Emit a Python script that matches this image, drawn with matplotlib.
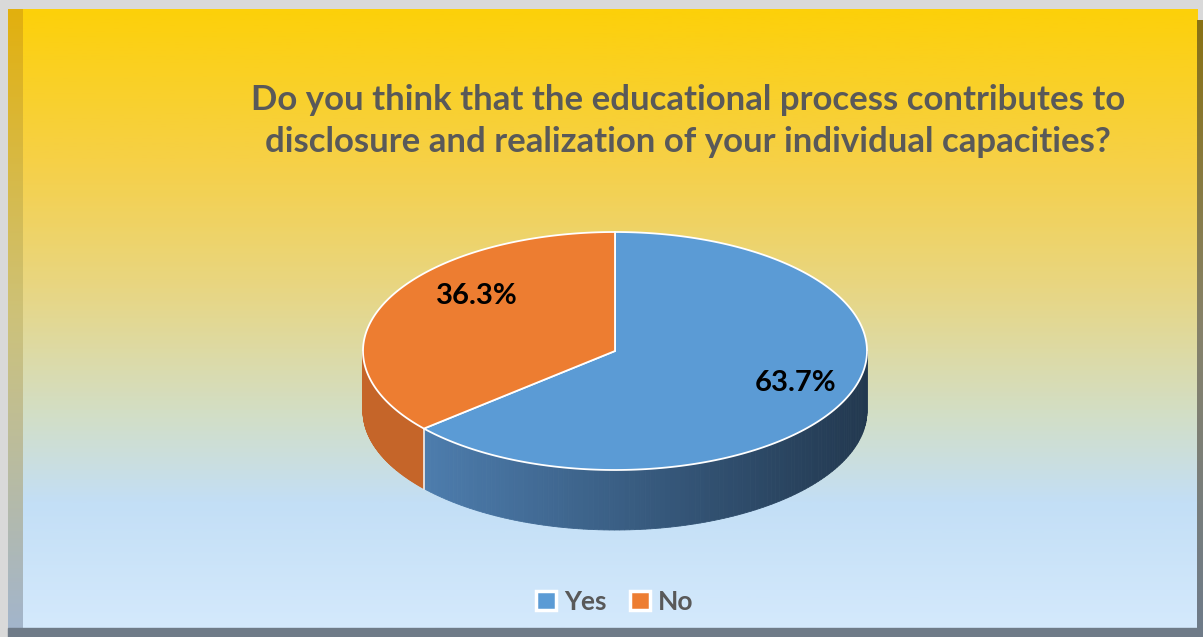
import numpy as np
import matplotlib.pyplot as plt
from matplotlib.patches import Polygon, Patch
from matplotlib.colors import LinearSegmentedColormap, to_rgb

# data
labels = ["Yes", "No"]
values = [63.7, 36.3]
colors = ["#5B9BD5", "#ED7D31"]
title = ("Do you think that the educational process contributes to\n"
         "disclosure and realization of your individual capacities?")

W, H = 1203, 637
fig = plt.figure(figsize=(W / 100, H / 100), dpi=100)
ax = fig.add_axes([0, 0, 1, 1])
ax.set_xlim(0, W)
ax.set_ylim(H, 0)
ax.axis("off")

# background gradient (yellow -> light blue)
stops = [(0.0, "#FDD00A"), (0.25, "#F6D048"), (0.45, "#E8D682"),
         (0.65, "#D3DEC4"), (0.8, "#C3DFF6"), (1.0, "#D4E9FC")]
bg = LinearSegmentedColormap.from_list("bg", stops)
grad = np.linspace(0, 1, 400).reshape(-1, 1)
ax.add_patch(Polygon([[0, 0], [W, 0], [W, H], [0, H]], color="#D9D9D9", zorder=0))
ax.imshow(grad, cmap=bg, aspect="auto", extent=(8, 1198, 628, 9), zorder=1)

# bevel frame
lb = LinearSegmentedColormap.from_list("lb", [(0, "#E2B00E"), (0.5, "#CDC27A"), (1, "#A3B5CB")])
ax.imshow(grad, cmap=lb, aspect="auto", extent=(8, 23, 628, 9), zorder=2)
rb = LinearSegmentedColormap.from_list("rb", [(0, "#8A7214"), (0.5, "#86826A"), (1, "#6E7B8A")])
ax.imshow(grad, cmap=rb, aspect="auto", extent=(1197, 1203, 637, 20), zorder=2)
ax.add_patch(Polygon([[8, 628], [1203, 628], [1203, 637], [8, 637]], color="#6F7B88", zorder=3))

# 3D pie
cx, cy, a, b, depth = 615, 351, 252, 119, 60


def pt(t, dz=0):
    r = np.radians(t)
    return cx + a * np.cos(r), cy - b * np.sin(r) + dz


angles = []
start = 90.0
for v in values:
    angles.append((start - v / 100 * 360, start))
    start -= v / 100 * 360

side_dark = ["#22384F", "#B85A22"]
side_light = ["#4F80B2", "#CB6A2C"]

# side walls (only front half, 180..360)
for i, (t0, t1) in enumerate(angles):
    lo, hi = t0 % 360, t0 % 360 + (t1 - t0)
    for off in (0, 360, -360):
        s, e = max(lo + off, 180), min(hi + off, 360)
        if e <= s:
            continue
        ts = np.linspace(s, e, 120)
        c0, c1 = np.array(to_rgb(side_light[i])), np.array(to_rgb(side_dark[i]))
        for k in range(len(ts) - 1):
            p0, p1 = pt(ts[k]), pt(ts[k + 1])
            q0, q1 = pt(ts[k], depth), pt(ts[k + 1], depth)
            f = np.clip((p0[0] - 400) / (868 - 400), 0, 1) if i == 0 else 0.3
            col = c0 * (1 - f) + c1 * f
            ax.add_patch(Polygon([p0, p1, q1, q0], color=col, lw=0.6, ec=col, zorder=4))

# edge between slices on the side
tb = angles[0][0] % 360
p, q = pt(tb), pt(tb, depth)
ax.plot([p[0], q[0]], [p[1], q[1]], color="#F0F0F0", lw=1.2, zorder=5)

# top faces
for i, (t0, t1) in enumerate(angles):
    ts = np.linspace(t0, t1, 200)
    pts = [(cx, cy)] + [pt(t) for t in ts]
    ax.add_patch(Polygon(pts, closed=True, fc=colors[i], ec="white", lw=1.3, zorder=6))

# data labels
nudges = [(20, -3), (22, -20)]
for i, (t0, t1) in enumerate(angles):
    mid = (t0 + t1) / 2
    x, y = pt(mid)
    x = cx + (x - cx) * 0.7 + nudges[i][0]
    y = cy + (y - cy) * 0.7 + nudges[i][1]
    ax.text(x, y, f"{values[i]:.1f}%", ha="center", va="center", fontsize=21,
            fontweight="bold", family="Lato", color="black", zorder=7)

# title
ax.text(688, 121, title, ha="center", va="center", fontsize=25, fontweight="bold",
        family="Lato", color="#595959", linespacing=1.4, zorder=7)

# legend
handles = [Patch(fc=c, ec="white", lw=2.5) for c in colors]
leg = ax.legend(handles, labels, loc="center", bbox_to_anchor=(615 / W, 1 - 602 / H),
                ncol=2, frameon=False, handlelength=0.75, handleheight=0.75,
                handletextpad=0.3, columnspacing=0.9,
                prop={"family": "Lato", "weight": "bold", "size": 19})
for t in leg.get_texts():
    t.set_color("#595959")

fig.savefig("out.png", dpi=100)
